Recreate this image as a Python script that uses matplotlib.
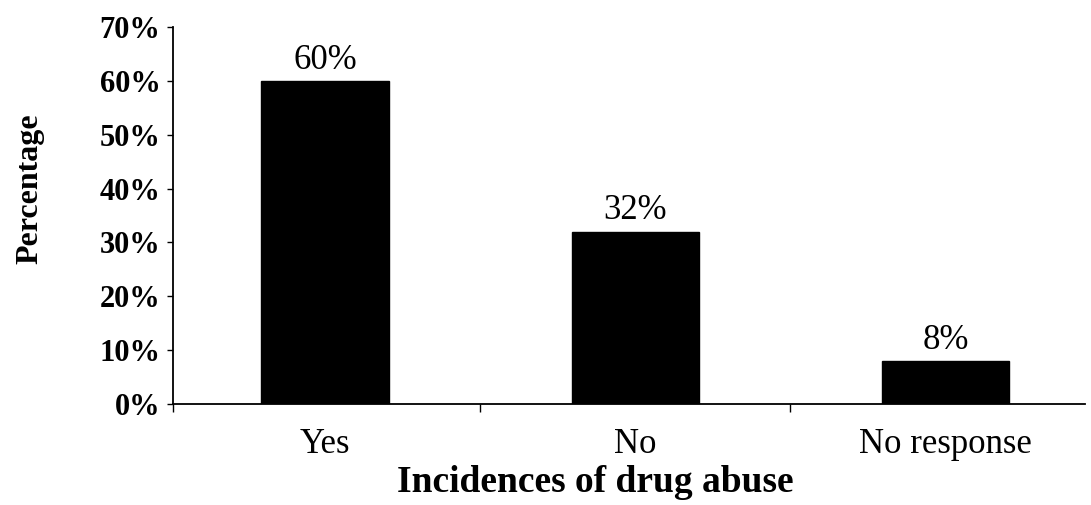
import matplotlib.pyplot as plt
from matplotlib.ticker import PercentFormatter, FixedLocator

# Survey responses on incidences of drug abuse
categories = ["Yes", "No", "No response"]
percentages = [60, 32, 8]
value_labels = ["60%", "32%", "8%"]
y_ticks = [0, 10, 20, 30, 40, 50, 60, 70]

plt.rcParams['font.family'] = ['Liberation Serif', 'DejaVu Serif']

fig = plt.figure(figsize=(10.91, 5.05), dpi=100)
ax = fig.add_axes([0.1586, 0.2, 0.836, 0.7465])

x = list(range(len(categories)))
bars = ax.bar(x, percentages, width=0.41, color="black", edgecolor="black")

# Percentage above each bar
for bar, label in zip(bars, value_labels):
    ax.annotate(label, (bar.get_x() + bar.get_width() / 2, bar.get_height()),
                xytext=(0, 3), textcoords="offset points",
                ha="center", va="bottom", fontsize=25)

ax.set_ylim(0, 70)
ax.set_xlim(-0.49, 2.45)
ax.set_yticks(y_ticks)
ax.yaxis.set_major_formatter(PercentFormatter(decimals=0))
for lbl in ax.get_yticklabels():
    lbl.set_fontweight("bold")
ax.tick_params(axis="y", labelsize=22, length=4, width=1, pad=5)

ax.set_xticks(x)
ax.set_xticklabels(categories, fontsize=25)
ax.tick_params(axis="x", length=0, pad=17)
# small dividers between the categories along the x axis
ax.xaxis.set_minor_locator(FixedLocator([-0.49, 0.5, 1.5]))
ax.tick_params(axis="x", which="minor", length=6, width=1, direction="out")

ax.spines["top"].set_visible(False)
ax.spines["right"].set_visible(False)
ax.spines["left"].set_linewidth(1.3)
ax.spines["bottom"].set_linewidth(1.3)

ax.set_xlabel("Incidences of drug abuse", fontsize=27, fontweight="bold", va="center")
ax.xaxis.set_label_coords(0.463, -0.207)
ax.set_ylabel("Percentage", fontsize=23, fontweight="bold", va="center")
ax.yaxis.set_label_coords(-0.157, 0.57)

fig.savefig("out.png", dpi=100)
